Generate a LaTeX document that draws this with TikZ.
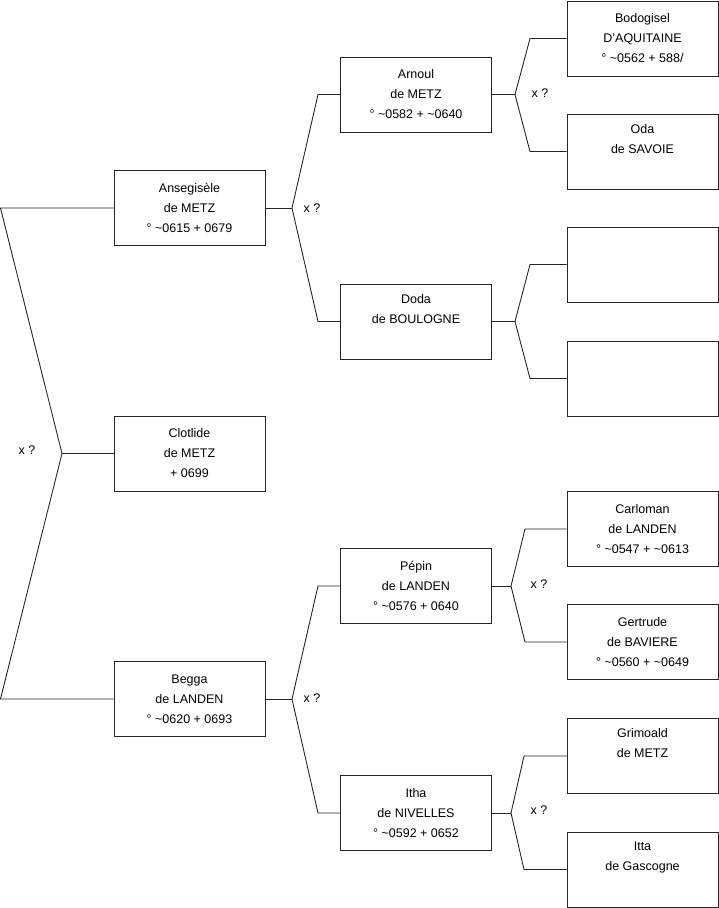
\documentclass[tikz,border=0pt]{standalone}
\usepackage{fontspec}
\setmainfont{Liberation Sans}
\begin{document}
\begin{tikzpicture}[x=1pt,y=-1pt,
  line width=0.9pt, draw=black!85,
  person/.style={draw=black!85, line width=0.9pt, minimum width=151pt, minimum height=75pt,
    inner sep=0pt, align=center, font=\fontsize{12.5}{20}\selectfont},
  lbl/.style={font=\fontsize{12.5}{15}\selectfont, inner sep=0pt}]
\useasboundingbox (0,0) rectangle (719,908);
% left column
\node[person] (A) at (189.5,208) {Ansegisèle\\de METZ\\° \textasciitilde0615 + 0679};
\node[person] (C) at (189.5,453.5) {Clotlide\\de METZ\\+ 0699};
\node[person] (B) at (189.5,699) {Begga\\de LANDEN\\° \textasciitilde0620 + 0693};
% middle column
\node[person] (Ar) at (416,94.5) {Arnoul\\de METZ\\° \textasciitilde0582 + \textasciitilde0640};
\node[person] (Do) at (416,321.5) {Doda\\de BOULOGNE\\\strut};
\node[person] (Pe) at (416,586) {Pépin\\de LANDEN\\° \textasciitilde0576 + 0640};
\node[person] (It) at (416,813) {Itha\\de NIVELLES\\° \textasciitilde0592 + 0652};
% right column
\node[person] (Bo) at (642.5,38.5) {Bodogisel\\D'AQUITAINE\\° \textasciitilde0562 + 588/};
\node[person] (Od) at (642.5,151.5) {Oda\\de SAVOIE\\\strut};
\node[person] (E1) at (642.5,264.5) {};
\node[person] (E2) at (642.5,378.5) {};
\node[person] (Ca) at (642.5,529) {Carloman\\de LANDEN\\° \textasciitilde0547 + \textasciitilde0613};
\node[person] (Ge) at (642.5,642) {Gertrude\\de BAVIERE\\° \textasciitilde0560 + \textasciitilde0649};
\node[person] (Gr) at (642.5,756) {Grimoald\\de METZ\\\strut};
\node[person] (Itt) at (642.5,869.5) {Itta\\de Gascogne\\\strut};
% left bracket
\coordinate (L1) at (0.5,208);
\coordinate (L3) at (0.5,699);
\coordinate (La) at (62,453.5);
\draw (A.west) -- (L1) -- (La) -- (L3) -- (B.west);
\draw (La) -- (C.west);
\node[lbl] (xL) at (27,450) {x ?};
% A bracket
\coordinate (Aa) at (292,208);
\coordinate (Ab1) at (318,94.5);
\coordinate (Ab2) at (318,321.5);
\draw (A.east) -- (Aa);
\draw (Ar.west) -- (Ab1) -- (Aa) -- (Ab2) -- (Do.west);
\node[lbl] (xA) at (312,208) {x ?};
% B bracket
\coordinate (Ba) at (292,699);
\coordinate (Bb1) at (318,586);
\coordinate (Bb2) at (318,813);
\draw (B.east) -- (Ba);
\draw (Pe.west) -- (Bb1) -- (Ba) -- (Bb2) -- (It.west);
\node[lbl] (xB) at (312,698) {x ?};
% Arnoul bracket
\coordinate (Ra) at (515,94.5);
\coordinate (Rb1) at (530,38.5);
\coordinate (Rb2) at (530,151.5);
\draw (Ar.east) -- (Ra);
\draw (Bo.west) -- (Rb1) -- (Ra) -- (Rb2) -- (Od.west);
\node[lbl] (xR) at (540,93) {x ?};
% Doda bracket
\coordinate (Da) at (515,321.5);
\coordinate (Db1) at (530,264.5);
\coordinate (Db2) at (530,378.5);
\draw (Do.east) -- (Da);
\draw (E1.west) -- (Db1) -- (Da) -- (Db2) -- (E2.west);
% Pepin bracket
\coordinate (Pa) at (511,586);
\coordinate (Pb1) at (525,529);
\coordinate (Pb2) at (525,642);
\draw (Pe.east) -- (Pa);
\draw (Ca.west) -- (Pb1) -- (Pa) -- (Pb2) -- (Ge.west);
\node[lbl] (xP) at (539,584) {x ?};
% Itha bracket
\coordinate (Ia) at (511,813);
\coordinate (Ib1) at (524,756);
\coordinate (Ib2) at (524,869.5);
\draw (It.east) -- (Ia);
\draw (Gr.west) -- (Ib1) -- (Ia) -- (Ib2) -- (Itt.west);
\node[lbl] (xI) at (539,810) {x ?};
\end{tikzpicture}
\end{document}
